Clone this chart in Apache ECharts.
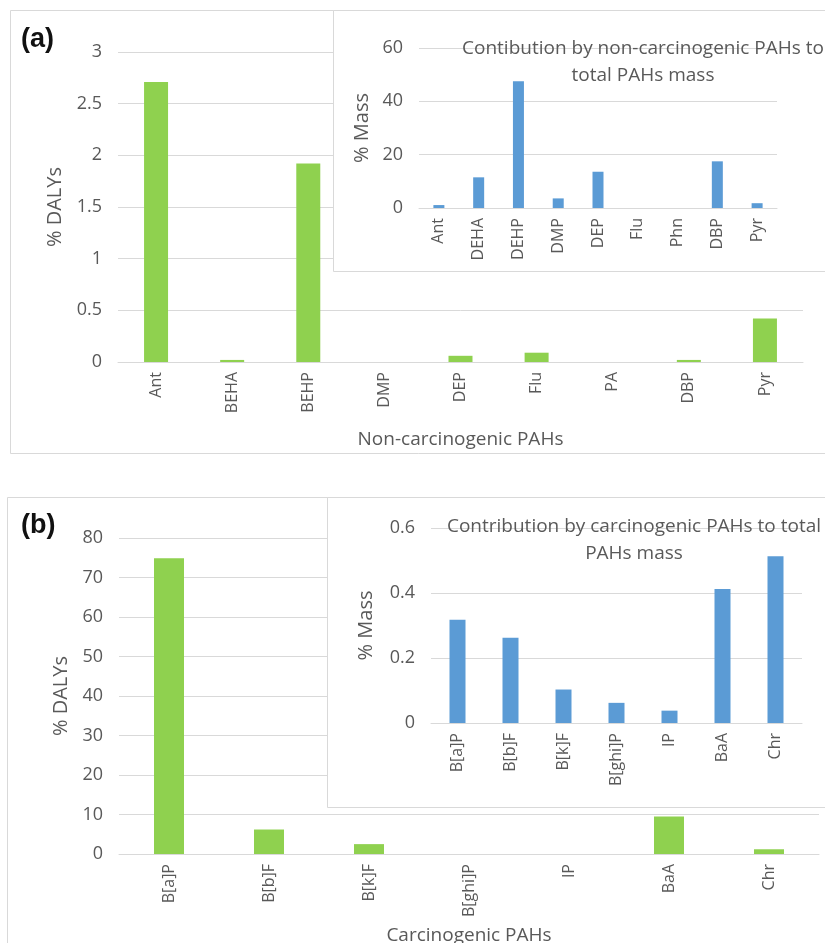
<!DOCTYPE html>
<html>
<head>
<meta charset="utf-8">
<script src="https://cdn.jsdelivr.net/npm/echarts@6/dist/echarts.min.js"></script>
<style>
html,body{margin:0;padding:0;background:#fff;}
#c{width:825px;height:943px;}
</style>
</head>
<body>
<div id="c"></div>
<script>
// ---- Data ----
const nonCarcCategories = ['Ant','BEHA','BEHP','DMP','DEP','Flu','PA','DBP','Pyr'];
const nonCarcDALYs = [2.71, 0.02, 1.92, 0, 0.06, 0.09, 0, 0.02, 0.42];
const nonCarcMassCategories = ['Ant','DEHA','DEHP','DMP','DEP','Flu','Phn','DBP','Pyr'];
const nonCarcMass = [1.1, 11.5, 47.5, 3.6, 13.6, 0, 0, 17.5, 1.8];
const carcCategories = ['B[a]P','B[b]F','B[k]F','B[ghi]P','IP','BaA','Chr'];
const carcDALYs = [74.9, 6.2, 2.5, 0, 0, 9.5, 1.2];
const carcMass = [0.318, 0.262, 0.103, 0.062, 0.038, 0.412, 0.513];

const FONT = 'Open Sans';
const TXT = '#595959';
const GRIDC = '#d9d9d9';
const GREEN = '#8fd14f';
const BLUE = '#5b9bd5';

const chart = echarts.init(document.getElementById('c'), null, {renderer:'canvas'});

function xAx(gridIndex, data, fontSize, name, nameGap, z){
  return {
    type:'category', gridIndex, data, z,
    axisLine:{show:true, lineStyle:{color:GRIDC, width:1}},
    axisTick:{show:false},
    axisLabel:{rotate:90, color:TXT, fontFamily:FONT, fontSize, margin:10, interval:0},
    name, nameLocation:'middle', nameGap,
    nameTextStyle:{color:TXT, fontFamily:FONT, fontSize:19}
  };
}
function yAx(gridIndex, min, max, interval, fontSize, name, nameGap, z, fmt){
  return {
    type:'value', gridIndex, min, max, interval, z,
    axisLine:{show:false}, axisTick:{show:false},
    splitLine:{lineStyle:{color:GRIDC, width:1}},
    axisLabel:{color:TXT, fontFamily:FONT, fontSize, margin:16, formatter:fmt},
    name, nameLocation:'middle', nameGap, nameRotate:90,
    nameTextStyle:{color:TXT, fontFamily:FONT, fontSize:20}
  };
}

const option = {
  backgroundColor:'#fff',
  animation:false,
  grid:[
    {left:118, right:22, top:52, bottom:581, outerBoundsMode:'none', containLabel:false},
    {left:419, right:48, top:48, bottom:735, outerBoundsMode:'none', containLabel:false},
    {left:119, right:6, top:538, bottom:89, outerBoundsMode:'none', containLabel:false},
    {left:431, right:23, top:528, bottom:220, outerBoundsMode:'none', containLabel:false}
  ],
  title:[
    {text:'Contibution by non-carcinogenic PAHs to\ntotal PAHs mass', left:638, top:30, textAlign:'center', z:12,
     textStyle:{color:TXT, fontFamily:FONT, fontSize:19, fontWeight:'normal', lineHeight:27}},
    {text:'Contribution by carcinogenic PAHs to total\nPAHs mass', left:629, top:508, textAlign:'center', z:12,
     textStyle:{color:TXT, fontFamily:FONT, fontSize:19, fontWeight:'normal', lineHeight:27}}
  ],
  xAxis:[
    xAx(0, nonCarcCategories, 16, 'Non-carcinogenic PAHs', 68, 0),
    xAx(1, nonCarcMassCategories, 16, '', 0, 10),
    xAx(2, carcCategories, 16, 'Carcinogenic PAHs', 72, 0),
    xAx(3, carcCategories, 16, '', 0, 10)
  ],
  yAxis:[
    yAx(0, 0, 3, 0.5, 18, '% DALYs', 50, 0),
    yAx(1, 0, 60, 20, 18, '% Mass', 47, 10),
    yAx(2, 0, 80, 10, 18, '% DALYs', 46, 0),
    yAx(3, 0, 0.6, 0.2, 18, '% Mass', 55, 10, v=>v===0?'0':v.toFixed(1))
  ],
  series:[
    {type:'bar', xAxisIndex:0, yAxisIndex:0, data:nonCarcDALYs, barWidth:24, itemStyle:{color:GREEN}, z:2},
    {type:'bar', xAxisIndex:1, yAxisIndex:1, data:nonCarcMass, barWidth:11, itemStyle:{color:BLUE}, z:11},
    {type:'bar', xAxisIndex:2, yAxisIndex:2, data:carcDALYs, barWidth:30, itemStyle:{color:GREEN}, z:2},
    {type:'bar', xAxisIndex:3, yAxisIndex:3, data:carcMass, barWidth:16, itemStyle:{color:BLUE}, z:11}
  ],
  graphic:[
    {type:'rect', shape:{x:10.5, y:10.5, width:830, height:443}, style:{fill:null, stroke:'#d9d9d9', lineWidth:1}, z:1, silent:true},
    {type:'rect', shape:{x:333.5, y:10.5, width:500, height:261}, style:{fill:'#fff', stroke:'#d9d9d9', lineWidth:1}, z:5, silent:true},
    {type:'rect', shape:{x:7.5, y:497.5, width:830, height:460}, style:{fill:null, stroke:'#d9d9d9', lineWidth:1}, z:1, silent:true},
    {type:'rect', shape:{x:327.5, y:497.5, width:510, height:310}, style:{fill:'#fff', stroke:'#d9d9d9', lineWidth:1}, z:5, silent:true},
    {type:'text', x:21, y:26, style:{text:'(a)', font:'bold 27px Arial', fill:'#111'}, z:12},
    {type:'text', x:21, y:512, style:{text:'(b)', font:'bold 27px Arial', fill:'#111'}, z:12}
  ]
};
chart.setOption(option);
</script>
</body>
</html>
